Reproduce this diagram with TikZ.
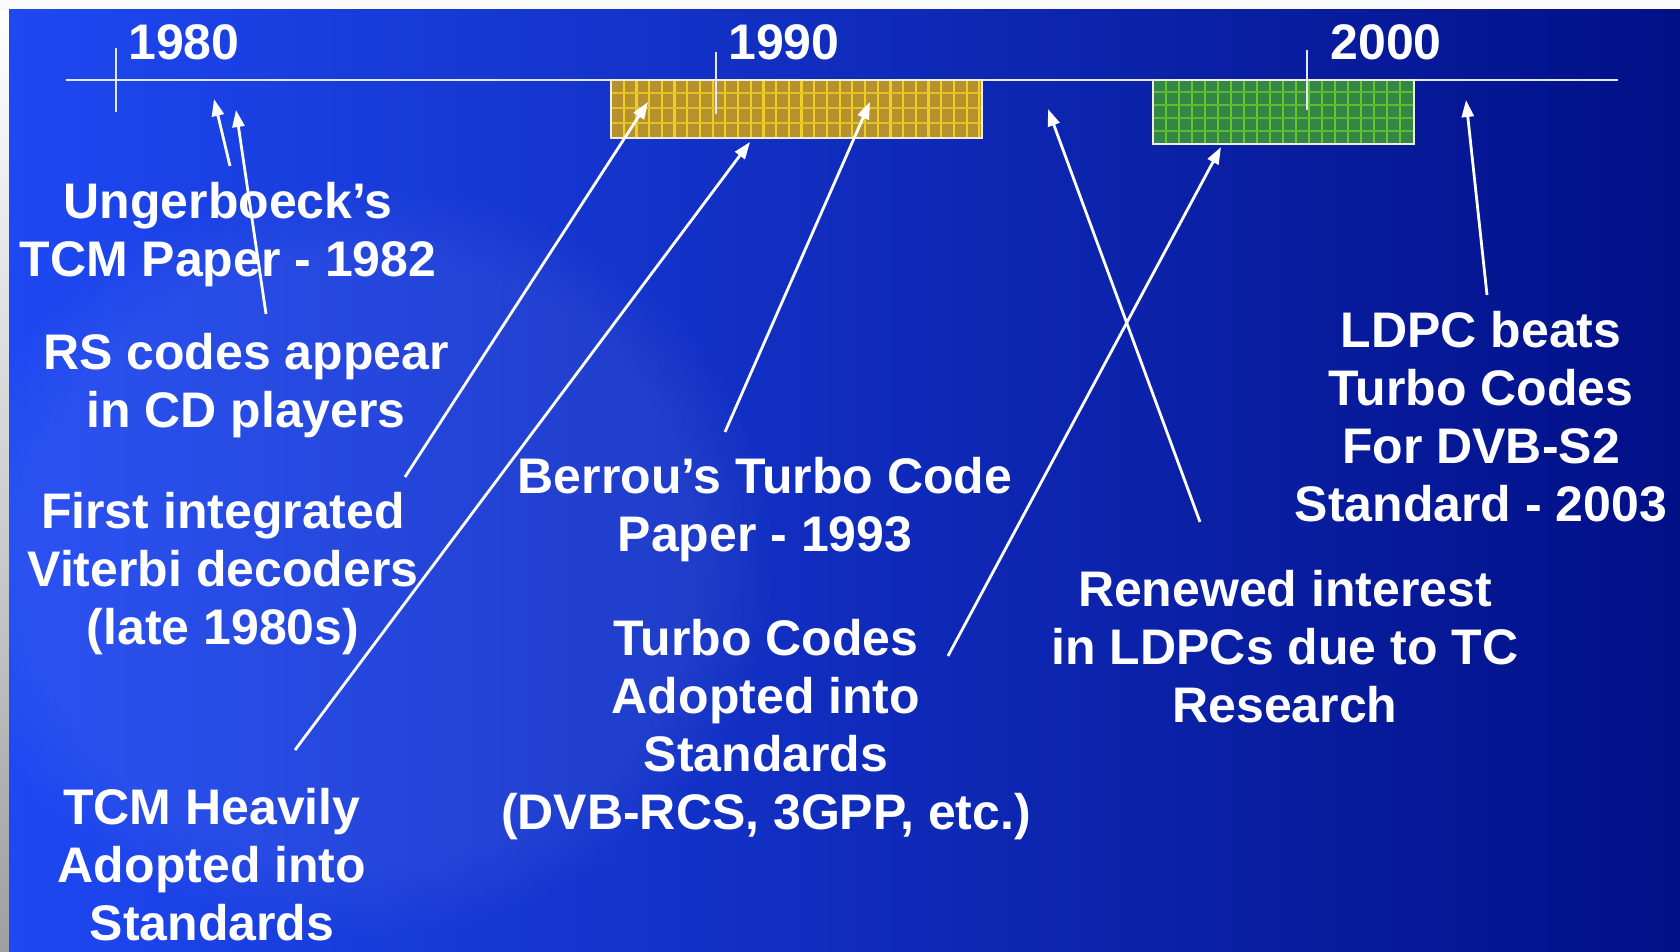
\documentclass[tikz,border=0pt]{standalone}
\usepackage{fontspec}
\setmainfont{Liberation Sans}
\usetikzlibrary{arrows.meta,fadings}
\definecolor{bgA}{RGB}{30,72,242}
\definecolor{bgB}{RGB}{16,48,214}
\definecolor{bgC}{RGB}{2,16,135}
\definecolor{goldfill}{RGB}{182,146,46}
\definecolor{goldline}{RGB}{240,206,36}
\definecolor{greenfill}{RGB}{52,134,70}
\definecolor{greenline}{RGB}{100,200,40}
\definecolor{edgewhite}{RGB}{238,238,220}
\definecolor{linewhite}{RGB}{225,232,255}
\tikzset{
  lbl/.style={text=white, font=\fontsize{25}{29}\selectfont\bfseries, align=center, inner sep=0pt},
  ptr/.style={draw=white, line width=1.4pt, -{Triangle[length=8.5pt,width=6pt]}},
  axisline/.style={draw=linewhite, line width=1.2pt},
  goldbox/.style={draw=edgewhite, line width=1.2pt, fill=goldfill, inner sep=0pt,
    path picture={
      \foreach \i in {1,...,29} {\draw[goldline, line width=1.1pt] ([xshift=\i*6.35pt]path picture bounding box.south west) -- ++(0,40pt);}
      \foreach \j in {1,2,3} {\draw[goldline!80!goldfill, line width=1.1pt] ([yshift=\j*7.5pt]path picture bounding box.south west) -- ++(200pt,0);}
    }},
  greenbox/.style={draw=edgewhite, line width=1.2pt, fill=greenfill, inner sep=0pt,
    path picture={
      \foreach \i in {1,...,19} {\draw[greenline, line width=1.1pt] ([xshift=\i*6.5pt]path picture bounding box.south west) -- ++(0,40pt);}
      \foreach \j in {1,...,4} {\draw[greenline!80!greenfill, line width=1.1pt] ([yshift=\j*6.5pt]path picture bounding box.south west) -- ++(200pt,0);}
    }},
}
\begin{document}
\begin{tikzpicture}[x=0.5pt,y=-0.5pt]
\useasboundingbox (0,0) rectangle (1680,952);
% background
\fill[white!96!gray] (0,0) rectangle (1680,952);
\shade[top color=white, bottom color=gray!75] (0,10) rectangle (9,952);
\shade[left color=bgA, middle color=bgB, right color=bgC] (9,10) rectangle (1680,952);
\fill[white, opacity=0.06, path fading=circle with fuzzy edge 20 percent] (360,560) ellipse (420 and 380);
% timeline
\coordinate (tlA) at (66,80);
\coordinate (tlB) at (1618,80);
\draw[axisline] (tlA) -- (tlB);
% period boxes
\node[goldbox, minimum width=185.5pt, minimum height=29pt] (gold) at (796.5,109) {};
\node[greenbox, minimum width=130.5pt, minimum height=32pt] (green) at (1283.5,112) {};
% ticks
\coordinate (t80a) at (116,48); \coordinate (t80b) at (116,112);
\coordinate (t90a) at (716,52); \coordinate (t90b) at (716,114);
\coordinate (t00a) at (1307,50); \coordinate (t00b) at (1307,110);
\draw[axisline] (t80a) -- (t80b);
\draw[axisline] (t90a) -- (t90b);
\draw[axisline] (t00a) -- (t00b);
% year labels
\node[lbl] (y80) at (184,42) {1980};
\node[lbl] (y90) at (784,42) {1990};
\node[lbl] (y00) at (1386,42) {2000};
% event labels
\node[lbl] (ung) at (228,235) {Ungerboeck’s\\TCM Paper - 1982};
\node[lbl] (rs) at (246,386) {RS codes appear\\in CD players};
\node[lbl] (vit) at (223,574) {First integrated\\Viterbi decoders\\(late 1980s)};
\node[lbl] (tcm) at (212,865) {TCM Heavily\\Adopted into\\Standards};
\node[lbl] (ber) at (765,510) {Berrou’s Turbo Code\\Paper - 1993};
\node[lbl] (tca) at (766,730) {Turbo Codes\\Adopted into\\Standards\\(DVB-RCS, 3GPP, etc.)};
\node[lbl] (ldi) at (1285,647) {Renewed interest\\in LDPCs due to TC\\Research};
\node[lbl] (ldb) at (1481,417) {LDPC beats\\Turbo Codes\\For DVB-S2\\Standard - 2003};
% arrow ends
\coordinate (a1s) at (230,166);  \coordinate (a1e) at (214,99);
\coordinate (a2s) at (266,314);  \coordinate (a2e) at (236,110);
\coordinate (a3s) at (405,477);  \coordinate (a3e) at (648,102);
\coordinate (a4s) at (295,750);  \coordinate (a4e) at (750,142);
\coordinate (a5s) at (725,432);  \coordinate (a5e) at (870,102);
\coordinate (a6s) at (1200,522); \coordinate (a6e) at (1048,109);
\coordinate (a7s) at (948,656);  \coordinate (a7e) at (1221,147);
\coordinate (a8s) at (1487,295); \coordinate (a8e) at (1466,100);
\draw[ptr] (a1s) -- (a1e);
\draw[ptr] (a2s) -- (a2e);
\draw[ptr] (a3s) -- (a3e);
\draw[ptr] (a4s) -- (a4e);
\draw[ptr] (a5s) -- (a5e);
\draw[ptr] (a6s) -- (a6e);
\draw[ptr] (a7s) -- (a7e);
\draw[ptr] (a8s) -- (a8e);
\end{tikzpicture}
\end{document}
